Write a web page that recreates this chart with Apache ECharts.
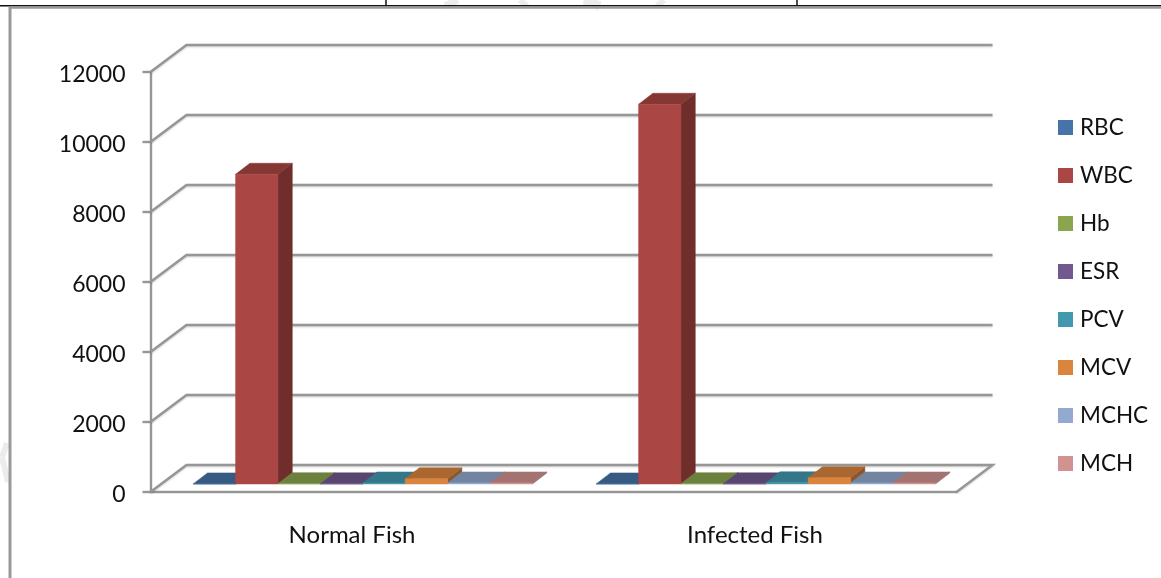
<!DOCTYPE html>
<html><head><meta charset="utf-8">
<style>html,body{margin:0;padding:0;background:#fff}#c{width:1161px;height:578px}</style>
<script src="https://cdn.jsdelivr.net/npm/echarts@6/dist/echarts.min.js"></script>
</head><body><div id="c"></div>
<script>
const categories = ['Normal Fish', 'Infected Fish'];
const yTicks = [0, 2000, 4000, 6000, 8000, 10000, 12000];
const RBC = [3, 3];
const WBC = [8850, 10850];
const Hb = [10, 10];
const ESR = [5, 5];
const PCV = [30, 35];
const MCV = [150, 180];
const MCHC = [30, 30];
const MCH = [30, 30];
const seriesNames = ['RBC','WBC','Hb','ESR','PCV','MCV','MCHC','MCH'];
const seriesValues = [RBC,WBC,Hb,ESR,PCV,MCV,MCHC,MCH];
const colors = ['#4674A8','#AA4643','#89A54E','#71588F','#4198AF','#DB843D','#93A9CF','#D19392'];

const FONT = 'Lato';
const GRID = {left:150.5, top:72, width:806, height:420};
const WALL = {dx:36, dy:-27};
const BAR = {dx:14.3, dy:-11, insetX:10.7, insetY:8, gapFrac:0.0794, widthFrac:0.1052};
const LINE = '#969696';
const LW = 2.4;

function shade(hex, f){
  const n = parseInt(hex.slice(1),16);
  const c = [(n>>16)&255,(n>>8)&255,n&255].map(v=>Math.round(v*f));
  return 'rgb('+c.join(',')+')';
}
function barItem(sIdx){
  return function(params, api){
    const cat = api.value(0), val = api.value(1);
    const band = api.size([1,0])[0];
    const c0 = api.coord([cat,0]), c1 = api.coord([cat,val]);
    const w = band*BAR.widthFrac;
    const x0 = c0[0]-band/2+BAR.insetX+band*BAR.gapFrac+w*sIdx;
    const x1 = x0+w;
    const yb = c0[1]-BAR.insetY, yt = c1[1]-BAR.insetY;
    const col = colors[sIdx];
    const poly = (pts,fill)=>({type:'polygon',shape:{points:pts},style:{fill:fill,stroke:fill,lineWidth:0.5}});
    return {type:'group',children:[
      poly([[x1,yb],[x1+BAR.dx,yb+BAR.dy],[x1+BAR.dx,yt+BAR.dy],[x1,yt]],shade(col,0.65)),
      poly([[x0,yt],[x1,yt],[x1+BAR.dx,yt+BAR.dy],[x0+BAR.dx,yt+BAR.dy]],shade(col,0.78)),
      poly([[x0,yb],[x1,yb],[x1,yt],[x0,yt]],col)
    ]};
  };
}
function wallItem(params, api){
  const v = api.value(0);
  const band = api.size([1,0])[0];
  const a = api.coord([0,v]);
  const left = a[0]-band/2, y = a[1];
  const right = left+band*categories.length;
  const pts = [[left,y],[left+WALL.dx,y+WALL.dy],[right+WALL.dx,y+WALL.dy]];
  if(v===0) pts.push([right,y]);
  return {type:'polyline',shape:{points:pts},style:{stroke:LINE,lineWidth:LW,fill:null,shadowColor:'rgba(0,0,0,0.18)',shadowBlur:2,shadowOffsetY:1}};
}
const series = [{
  type:'custom',name:'__walls',silent:true,z:1,clip:false,
  renderItem:wallItem,
  data:yTicks.map(v=>[v]),
  encode:{y:0}
}];
seriesNames.forEach((name,i)=>{
  series.push({
    type:'custom',name:name,z:2+i,clip:false,
    itemStyle:{color:colors[i]},
    renderItem:barItem(i),
    encode:{x:0,y:1},
    data:seriesValues[i].map((v,k)=>[k,v])
  });
});
const wm = (x1,y1,x2,y2,w)=>({type:'line',z:-1,silent:true,shape:{x1,y1,x2,y2},style:{stroke:'#ececec',lineWidth:w}});
const rule = (x1,y1,x2,y2,c,w)=>({type:'line',silent:true,shape:{x1,y1,x2,y2},style:{stroke:c,lineWidth:w}});
const chart = echarts.init(document.getElementById('c'),null,{renderer:'canvas'});
chart.setOption({
  animation:false,
  backgroundColor:'#fff',
  grid:GRID,
  legend:{
    data:seriesNames,orient:'vertical',left:1053,top:109,
    icon:'rect',itemWidth:15,itemHeight:15,itemGap:21,
    textStyle:{fontFamily:FONT,fontSize:22.5,color:'#111',padding:[0,0,0,2],lineHeight:27},
    selectedMode:false
  },
  tooltip:{show:false},
  xAxis:{type:'category',data:categories,boundaryGap:true,
    axisLine:{lineStyle:{color:LINE,width:LW}},
    axisTick:{length:8,lineStyle:{color:LINE,width:LW}},
    axisLabel:{fontFamily:FONT,fontSize:24,color:'#111',margin:31},
    splitLine:{show:false}},
  yAxis:{type:'value',min:0,max:12000,interval:2000,
    axisLine:{show:true,lineStyle:{color:LINE,width:LW}},
    axisTick:{show:true,length:8,lineStyle:{color:LINE,width:LW}},
    axisLabel:{fontFamily:FONT,fontSize:23,color:'#111',margin:25,verticalAlign:'top',lineHeight:5,formatter:v=>String(v)},
    splitLine:{show:false}},
  graphic:[
    wm(445,6,458,0,7), wm(520,0,527,6,6), wm(584,0,600,6,9), wm(657,6,664,0,6),
    wm(7,443,2,457,6), wm(2,457,8,482,6),
    rule(0,5.8,1161,5.8,'#111',1.5),
    rule(10,7.5,1161,7.5,'#999',2.5),
    rule(10,7,10,578,'#999',3),
    rule(386,0,386,6,'#111',1.5),
    rule(797,0,797,6,'#111',1.5)
  ],
  series:series
});
</script></body></html>
